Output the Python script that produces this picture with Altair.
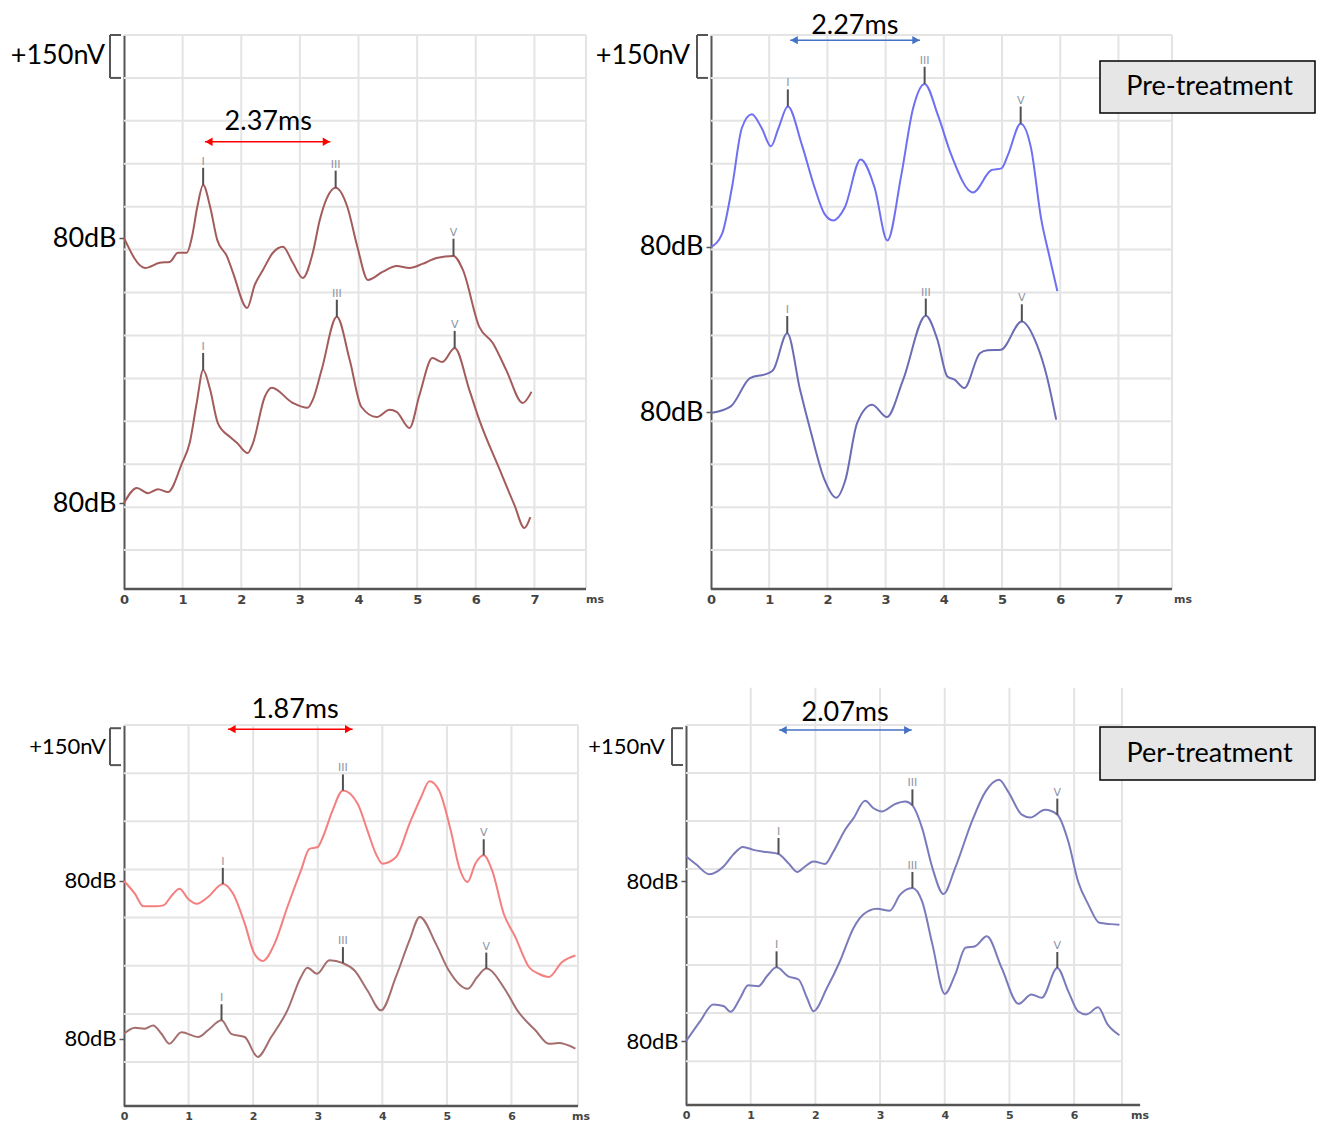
import altair as alt
import pandas as pd

FONT = "Lato"
TICKFONT = "DejaVu Sans"

# ---------------- data (ms, nV) ----------------
P1_UP_MS = [0, 0.36, 0.61, 0.78, 0.92, 1.07, 1.16, 1.25, 1.35, 1.47, 1.59, 1.76, 1.86, 2.10, 2.23, 2.37, 2.54, 2.71, 2.88, 3.05,
            3.22, 3.34, 3.46, 3.61, 3.81, 3.98, 4.16, 4.41, 4.65, 4.87, 5.09, 5.33, 5.62, 5.78, 6.06, 6.29, 6.52, 6.80, 6.95]
P1_UP_NV = [1091, 986, 1004, 1007, 1039, 1039, 1095, 1199, 1276, 1199, 1084, 1025, 969, 846, 927, 979, 1039, 1060, 1004, 951,
            1039, 1154, 1230, 1266, 1199, 1060, 944, 972, 993, 986, 1000, 1021, 1028, 979, 780, 724, 629, 514, 553]
P1_LO_MS = [0, 0.22, 0.41, 0.58, 0.75, 0.99, 1.12, 1.24, 1.35, 1.47, 1.60, 1.81, 1.93, 2.11, 2.20, 2.40, 2.52, 2.88, 3.13, 3.22,
            3.37, 3.63, 3.85, 4.05, 4.31, 4.53, 4.65, 4.87, 5.04, 5.26, 5.43, 5.64, 5.89, 6.06, 6.41, 6.66, 6.83, 6.93]
P1_LO_NV = [164, 217, 199, 213, 203, 304, 374, 514, 629, 560, 444, 395, 374, 339, 374, 535, 567, 514, 497, 525,
            629, 815, 664, 500, 465, 490, 483, 427, 542, 671, 657, 706, 560, 455, 280, 157, 77, 115]

P2_UP_MS = [0, 0.19, 0.36, 0.53, 0.70, 0.87, 1.03, 1.16, 1.32, 1.56, 1.78, 1.95, 2.10, 2.30, 2.57, 2.81, 3.03, 3.27, 3.47, 3.67,
            3.90, 4.13, 4.50, 4.82, 4.99, 5.10, 5.32, 5.50, 5.67, 5.82, 5.95]
P2_UP_NV = [1059, 1105, 1267, 1475, 1523, 1475, 1411, 1475, 1550, 1417, 1267, 1175, 1152, 1198, 1365, 1267, 1082, 1311, 1542, 1629,
            1519, 1380, 1250, 1328, 1334, 1380, 1490, 1403, 1160, 1021, 905]
P2_LO_MS = [0, 0.34, 0.67, 1.00, 1.07, 1.31, 1.53, 1.72, 1.95, 2.15, 2.31, 2.51, 2.77, 3.02, 3.30, 3.69, 3.89, 4.06, 4.19, 4.35,
            4.62, 4.75, 4.98, 5.34, 5.60, 5.77, 5.93]
P2_LO_NV = [479, 502, 601, 619, 630, 758, 560, 409, 246, 183, 246, 444, 508, 465, 595, 819, 735, 607, 595, 566,
            688, 698, 700, 799, 717, 607, 456]

P3_UP_MS = [0, 0.17, 0.30, 0.48, 0.61, 0.74, 0.86, 0.99, 1.13, 1.30, 1.53, 1.69, 1.87, 2.02, 2.15, 2.33, 2.53, 2.74, 2.87, 3.00,
            3.08, 3.23, 3.39, 3.62, 3.77, 3.90, 4.00, 4.21, 4.42, 4.60, 4.73, 4.88, 5.06, 5.19, 5.32, 5.44, 5.57, 5.70, 5.88, 6.06,
            6.27, 6.42, 6.58, 6.78, 6.99]
P3_UP_NV = [564, 524, 485, 485, 488, 519, 540, 509, 493, 514, 555, 524, 431, 337, 315, 368, 483, 597, 664, 670,
            701, 784, 846, 804, 721, 649, 618, 638, 742, 825, 875, 846, 721, 607, 561, 618, 644, 597, 462, 389,
            296, 275, 265, 311, 332]
P3_LO_MS = [0, 0.17, 0.32, 0.45, 0.58, 0.70, 0.89, 1.15, 1.30, 1.51, 1.66, 1.87, 2.07, 2.28, 2.53, 2.74, 2.84, 2.99, 3.18, 3.39,
            3.57, 3.77, 3.98, 4.21, 4.42, 4.58, 4.83, 5.03, 5.32, 5.47, 5.61, 5.91, 6.09, 6.37, 6.58, 6.73, 6.99]
P3_LO_NV = [88, 107, 104, 114, 88, 57, 93, 78, 99, 130, 88, 78, 16, 78, 161, 265, 294, 275, 317, 308,
            285, 223, 161, 265, 379, 452, 368, 285, 228, 265, 291, 223, 161, 99, 57, 59, 42]

P4_UP_MS = [0, 0.16, 0.36, 0.58, 0.73, 0.88, 1.04, 1.25, 1.43, 1.58, 1.72, 1.84, 1.97, 2.15, 2.28, 2.46, 2.59, 2.77, 2.90, 3.03,
            3.23, 3.39, 3.50, 3.65, 3.81, 3.98, 4.16, 4.42, 4.63, 4.84, 4.98, 5.19, 5.32, 5.55, 5.74, 5.91, 6.06, 6.22, 6.39, 6.57,
            6.70]
P4_UP_NV = [640, 614, 584, 608, 645, 669, 660, 653, 647, 619, 591, 608, 624, 616, 655, 723, 759, 813, 790, 780,
            803, 811, 799, 728, 603, 522, 603, 749, 842, 879, 842, 770, 761, 785, 770, 686, 562, 489, 432, 428,
            426]
P4_LO_MS = [0, 0.22, 0.42, 0.58, 0.69, 0.84, 0.96, 1.12, 1.25, 1.40, 1.58, 1.74, 1.87, 1.97, 2.18, 2.38, 2.59, 2.74, 2.95, 3.15,
            3.31, 3.50, 3.65, 3.81, 4.00, 4.16, 4.32, 4.47, 4.65, 4.88, 5.14, 5.34, 5.50, 5.74, 5.91, 6.06, 6.19, 6.37, 6.52, 6.70]
P4_LO_NV = [62, 125, 177, 172, 154, 198, 237, 234, 265, 293, 265, 255, 198, 156, 229, 312, 416, 458, 476, 470,
            520, 541, 499, 364, 210, 270, 354, 359, 390, 291, 179, 208, 198, 291, 218, 156, 146, 168, 114, 81]

PEAK_LABELS = ["I", "III", "V"]
P1_UP_PK_MS, P1_UP_PK_NV = [1.35, 3.61, 5.62], [1276, 1266, 1028]
P1_LO_PK_MS, P1_LO_PK_NV = [1.35, 3.63, 5.64], [629, 815, 706]
P2_UP_PK_MS, P2_UP_PK_NV = [1.32, 3.67, 5.32], [1550, 1629, 1490]
P2_LO_PK_MS, P2_LO_PK_NV = [1.31, 3.69, 5.34], [758, 819, 799]
P3_UP_PK_MS, P3_UP_PK_NV = [1.53, 3.39, 5.57], [555, 846, 644]
P3_LO_PK_MS, P3_LO_PK_NV = [1.51, 3.39, 5.61], [130, 308, 291]
P4_UP_PK_MS, P4_UP_PK_NV = [1.43, 3.50, 5.74], [647, 799, 770]
P4_LO_PK_MS, P4_LO_PK_NV = [1.40, 3.50, 5.74], [293, 541, 291]

LATENCY_TEXT = ["2.37ms", "2.27ms", "1.87ms", "2.07ms"]
ARROW_FROM_MS = [1.38, 1.36, 1.61, 1.44]
ARROW_TO_MS = [3.52, 3.59, 3.54, 3.49]
BASELINES = [(1090, 164), (1060, 481), (564, 72), (562, 62)]
BOX_TEXT = ["Pre-treatment", "Per-treatment"]

GRID = "#e4e4e4"
AXC = "#555555"


def panel(c):
    W, H = c["w"], c["h"]
    ox = c.get("ox", 0)  # pixel position of x = 0 inside the panel
    xs = alt.Scale(domain=c["xdom"], nice=False, zero=False)
    ys = alt.Scale(domain=c["ydom"], nice=False, zero=False)
    AXX = alt.Axis(values=list(range(0, c["nticks"] + 1)), format="d", labelFont=TICKFONT,
                   labelFontWeight="bold", labelFontSize=c["tickfs"], labelColor="#444",
                   ticks=False, domain=False, grid=False, labelPadding=4, labelFlush=False, title=None)
    AXY = alt.Axis(values=list(c["base"]), labelExpr="'80dB'", labelFont=FONT,
                   labelFontSize=c["lblfs"], labelColor="black", tickSize=5, tickColor=AXC,
                   tickWidth=1.5, domain=True, domainColor=AXC, domainWidth=2, grid=False,
                   labelPadding=3, title=None, offset=-ox)

    def X(f="x"):
        return alt.X(f, type="quantitative", scale=xs, axis=AXX)

    def Y(f="y"):
        return alt.Y(f, type="quantitative", scale=ys, axis=AXY)

    layers = []
    # horizontal grid
    hg = pd.DataFrame({"y": c["hgrid"], "x": 0.0, "x2": c["xgrid_end"]})
    layers.append(alt.Chart(hg).mark_rule(color=GRID, strokeWidth=2).encode(x=X(), x2="x2", y=Y()))
    # vertical grid
    vg = pd.DataFrame({"x": c["vgrid"], "y": c["ydom"][0], "y2": c["vgrid_top"]})
    layers.append(alt.Chart(vg).mark_rule(color=GRID, strokeWidth=2).encode(x=X(), y=Y(), y2="y2"))
    # x axis line
    xl = pd.DataFrame({"x": [0.0], "x2": [c["xaxis_end"]], "y": [c["ydom"][0]]})
    layers.append(alt.Chart(xl).mark_rule(color=AXC, strokeWidth=2.5).encode(x=X(), x2="x2", y=Y()))
    # traces
    for ms, nv, col in c["traces"]:
        df = pd.DataFrame({"x": ms, "y": nv})
        layers.append(alt.Chart(df).mark_line(color=col, strokeWidth=2, interpolate="monotone").encode(
            x=X(), y=Y()))
    # peak markers
    for pms, pnv in c["peaks"]:
        df = pd.DataFrame({"x": pms, "y": pnv, "y2": [v + c["tick"] for v in pnv], "t": PEAK_LABELS})
        layers.append(alt.Chart(df).mark_rule(color="#505050", strokeWidth=2).encode(x=X(), y=Y(), y2="y2"))
        layers.append(alt.Chart(df).mark_text(baseline="bottom", dy=-1, fontSize=11, font=TICKFONT,
                                              color="#8d93a3").encode(x=X(), y=Y("y2"), text="t"))
    # latency arrow
    ad = pd.DataFrame({"x": [c["a0"]], "x2": [c["a1"]], "y": [c["ay"]]})
    layers.append(alt.Chart(ad).mark_rule(color=c["acol"], strokeWidth=1.5).encode(x=X(), x2="x2", y=Y()))
    layers.append(alt.Chart(pd.DataFrame({"x": [c["a0"]], "y": [c["ay"]]})).mark_point(
        shape="triangle-left", filled=True, size=70, opacity=1, color=c["acol"], xOffset=4).encode(x=X(), y=Y()))
    layers.append(alt.Chart(pd.DataFrame({"x": [c["a1"]], "y": [c["ay"]]})).mark_point(
        shape="triangle-right", filled=True, size=70, opacity=1, color=c["acol"], xOffset=-4).encode(x=X(), y=Y()))
    td = pd.DataFrame({"x": [c["tx"]], "y": [c["ty"]], "t": [c["text"]]})
    layers.append(alt.Chart(td).mark_text(fontSize=27, font=FONT, color="black").encode(x=X(), y=Y(), text="t"))
    # +150nV scale bracket
    sd = pd.DataFrame({"y": [c["br"][0]], "y2": [c["br"][1]], "t": ["+150nV"], "ym": [(c["br"][0] + c["br"][1]) / 2]})
    layers.append(alt.Chart(sd).mark_text(align="right", baseline="middle", fontSize=c["lblfs"], font=FONT,
                                          color="black").encode(x=alt.value(ox + c["nvx"]), y=Y("ym"), text="t"))
    layers.append(alt.Chart(sd).mark_rule(color=AXC, strokeWidth=2).encode(
        x=alt.value(ox - 14), y=Y(), y2="y2"))
    bd = pd.DataFrame({"y": list(c["br"])})
    layers.append(alt.Chart(bd).mark_rule(color=AXC, strokeWidth=2).encode(
        x=alt.value(ox - 14), x2=alt.value(ox - 3), y=Y()))
    # ms unit label
    layers.append(alt.Chart(pd.DataFrame({"t": ["ms"]})).mark_text(
        fontSize=11, font=TICKFONT, fontWeight="bold", color="#444", baseline="middle").encode(
        x=alt.value(ox + c["msx"]), y=alt.value(H + 11), text="t"))
    # label box
    if c.get("box"):
        bx0, bx1, by0, by1, btxt = c["box"]
        layers.append(alt.Chart(pd.DataFrame({"t": [btxt]})).mark_rect(
            fill="#e6e6e6", stroke="black", strokeWidth=1.5).encode(
            x=alt.value(ox + bx0), x2=alt.value(ox + bx1), y=alt.value(by0), y2=alt.value(by1)))
        layers.append(alt.Chart(pd.DataFrame({"t": [btxt]})).mark_text(
            fontSize=27, font=FONT, color="black", baseline="middle").encode(
            x=alt.value(ox + (bx0 + bx1) / 2 + 2), y=alt.value((by0 + by1) / 2), text="t"))
    if c.get("anchor"):
        layers.append(alt.Chart(pd.DataFrame({"t": [0]})).mark_rule(color="white", strokeOpacity=0).encode(
            x=alt.value(-116), x2=alt.value(-115), y=alt.value(-27), y2=alt.value(-26)))
    return alt.layer(*layers).properties(width=W, height=H)


TOP_Y = [-136, 1800]
BOT_Y = [-137, 1050]
P2_OX = 25

p1 = panel(dict(w=462, h=554, xdom=[0, 7.88], ydom=TOP_Y, hgrid=list(range(0, 1801, 150)),
                xgrid_end=7.88, vgrid=[1, 2, 3, 4, 5, 6, 7, 7.88], vgrid_top=1800, xaxis_end=7.88,
                nticks=7, tickfs=13, lblfs=27, base=BASELINES[0],
                traces=[(P1_UP_MS, P1_UP_NV, "#a35b5b"), (P1_LO_MS, P1_LO_NV, "#a35b5b")],
                peaks=[(P1_UP_PK_MS, P1_UP_PK_NV), (P1_LO_PK_MS, P1_LO_PK_NV)], tick=60,
                a0=ARROW_FROM_MS[0], a1=ARROW_TO_MS[0], ay=1427, acol="#ff0000",
                tx=2.46, ty=1497, text=LATENCY_TEXT[0], br=(1800, 1650), nvx=-19, msx=471, anchor=True))

p2 = panel(dict(w=461 + P2_OX, h=554, ox=P2_OX, xdom=[-P2_OX / 58.2, 7.92], ydom=TOP_Y,
                hgrid=list(range(0, 1801, 150)),
                xgrid_end=7.92, vgrid=[1, 2, 3, 4, 5, 6, 7, 7.92], vgrid_top=1800, xaxis_end=7.92,
                nticks=7, tickfs=13, lblfs=27, base=BASELINES[1],
                traces=[(P2_UP_MS, P2_UP_NV, "#6f6ff2"), (P2_LO_MS, P2_LO_NV, "#6c6cb4")],
                peaks=[(P2_UP_PK_MS, P2_UP_PK_NV), (P2_LO_PK_MS, P2_LO_PK_NV)], tick=60,
                a0=ARROW_FROM_MS[1], a1=ARROW_TO_MS[1], ay=1782, acol="#4472c4",
                tx=2.47, ty=1830, text=LATENCY_TEXT[1], br=(1800, 1650), nvx=-21, msx=472,
                box=(389, 604, 26, 78, BOX_TEXT[0])))

p3 = panel(dict(w=454, h=381, xdom=[0, 7.03], ydom=BOT_Y, hgrid=list(range(0, 1051, 150)),
                xgrid_end=7.03, vgrid=[1, 2, 3, 4, 5, 6, 7.03], vgrid_top=1050, xaxis_end=7.03,
                nticks=6, tickfs=11, lblfs=22, base=BASELINES[2],
                traces=[(P3_UP_MS, P3_UP_NV, "#f47f7f"), (P3_LO_MS, P3_LO_NV, "#a46e6e")],
                peaks=[(P3_UP_PK_MS, P3_UP_PK_NV), (P3_LO_PK_MS, P3_LO_PK_NV)], tick=50,
                a0=ARROW_FROM_MS[2], a1=ARROW_TO_MS[2], ay=1037, acol="#ff0000",
                tx=2.65, ty=1096, text=LATENCY_TEXT[2], br=(1040, 925), nvx=-18, msx=457))

p4 = panel(dict(w=436, h=380, xdom=[0, 6.74], ydom=BOT_Y, hgrid=list(range(0, 1051, 150)),
                xgrid_end=6.74, vgrid=[1, 2, 3, 4, 5, 6, 6.74], vgrid_top=1166, xaxis_end=7.02,
                nticks=6, tickfs=11, lblfs=22, base=BASELINES[3],
                traces=[(P4_UP_MS, P4_UP_NV, "#7b7bbb"), (P4_LO_MS, P4_LO_NV, "#7b7bbb")],
                peaks=[(P4_UP_PK_MS, P4_UP_PK_NV), (P4_LO_PK_MS, P4_LO_PK_NV)], tick=50,
                a0=ARROW_FROM_MS[3], a1=ARROW_TO_MS[3], ay=1034, acol="#4472c4",
                tx=2.46, ty=1087, text=LATENCY_TEXT[3], br=(1040, 925), nvx=-21, msx=454,
                box=(414, 629, 2, 55, BOX_TEXT[1])))

chart = alt.concat(p1, p2, p3, p4, columns=2, spacing={"row": 136, "column": 100},
                   align="each", bounds="flush").properties(
    padding=0, background="white").configure_view(stroke=None)

chart.save("out.html", embed_options={"renderer": "svg", "actions": False})
